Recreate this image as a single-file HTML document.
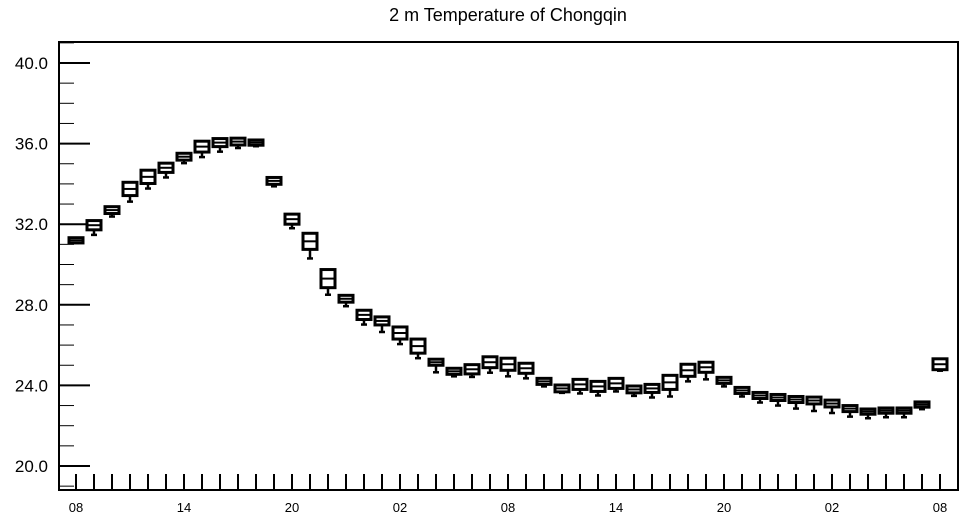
<!DOCTYPE html>
<html><head><meta charset="utf-8"><style>
html,body{margin:0;padding:0;background:#fff;}
svg{display:block;font-family:"Liberation Sans",Arial,sans-serif;}
</style></head><body>
<svg id="chart" width="964" height="520" viewBox="0 0 964 520">
<text x="508" y="21" text-anchor="middle" font-size="18">2 m Temperature of Chongqin</text>
<g id="plot"></g>
</svg>
<script>
const hourLabels = ["08","14","20","02","08","14","20","02","08"];
const yTickValues = [20,24,28,32,36,40];
const medians = [31.2,31.95,32.7,33.75,34.35,34.8,35.35,35.85,36.05,36.1,36.05,34.15,32.25,31.15,29.3,28.3,27.5,27.2,26.6,25.95,25.15,24.7,24.8,25.15,25.05,24.85,24.2,23.85,24.05,23.95,24.1,23.8,23.85,24.15,24.75,24.9,24.25,23.75,23.5,23.4,23.3,23.25,23.1,22.85,22.7,22.75,22.75,23.05,25.05];
const boxHalf = [0.08,0.18,0.12,0.28,0.28,0.18,0.12,0.22,0.15,0.12,0.08,0.12,0.2,0.35,0.4,0.12,0.18,0.15,0.25,0.3,0.1,0.1,0.18,0.22,0.25,0.2,0.1,0.12,0.2,0.2,0.2,0.12,0.15,0.3,0.25,0.2,0.1,0.1,0.1,0.1,0.1,0.12,0.12,0.1,0.08,0.08,0.08,0.08,0.22];
const lowerWhisker = [0.05,0.3,0.2,0.35,0.3,0.3,0.2,0.3,0.3,0.2,0.1,0.15,0.25,0.5,0.4,0.25,0.3,0.4,0.3,0.3,0.4,0.15,0.2,0.3,0.35,0.3,0.15,0.1,0.25,0.25,0.2,0.2,0.3,0.4,0.3,0.4,0.2,0.2,0.25,0.3,0.35,0.4,0.35,0.3,0.25,0.25,0.25,0.15,0.1];

const L=59,R=958,T=42,B=490;
function y(v){return 466-(v-20)*20.15;}
function x(i){return 76+i*18;}
const NS="http://www.w3.org/2000/svg";
const g=document.getElementById('plot');
function mk(tag,attrs){const e=document.createElementNS(NS,tag);for(const k in attrs)e.setAttribute(k,attrs[k]);g.appendChild(e);return e;}

const frame=mk('rect',{x:L,y:T,width:R-L,height:B-T,fill:'none',stroke:'#000','stroke-width':2});



for(let v=19;v<=41;v++){
  const yy=y(v);
  if(yy<T||yy>B)continue;
  const major=(v%4===0);
  const t=mk('line',{x1:L,x2:L+(major?31:15),y1:yy,y2:yy,stroke:'#000','stroke-width':major?2:1});
  
  
}
yTickValues.forEach(v=>{
  const t=mk('text',{x:48,y:y(v)+6,'text-anchor':'end','font-size':17});
  t.textContent=v.toFixed(1);
  
  
});
for(let i=0;i<medians.length;i++){
  const t=mk('line',{x1:x(i),x2:x(i),y1:B,y2:B-16,stroke:'#000','stroke-width':2});
  
  
}
hourLabels.forEach((s,k)=>{
  const t=mk('text',{x:x(k*6),y:512,'text-anchor':'middle','font-size':13});
  t.textContent=s;
  
  
});
medians.forEach((m,i)=>{
  const q3=m+boxHalf[i], q1=m-boxHalf[i], lo=q1-lowerWhisker[i];
  const cx=x(i);
  const w=mk('line',{x1:cx,x2:cx,y1:y(q1),y2:y(lo),stroke:'#000','stroke-width':2.5});
  
  
  const cap=mk('line',{x1:cx-3,x2:cx+3,y1:y(lo),y2:y(lo),stroke:'#000','stroke-width':2.5});
  
  
  const b=mk('rect',{x:cx-7,y:y(q3)-1,width:14,height:y(q1)-y(q3)+2,fill:'#fff',stroke:'#000','stroke-width':3});
  
  
  const md=mk('line',{x1:cx-7,x2:cx+7,y1:y(m),y2:y(m),stroke:'#000','stroke-width':2});
  
  
});
</script>
</body></html>
